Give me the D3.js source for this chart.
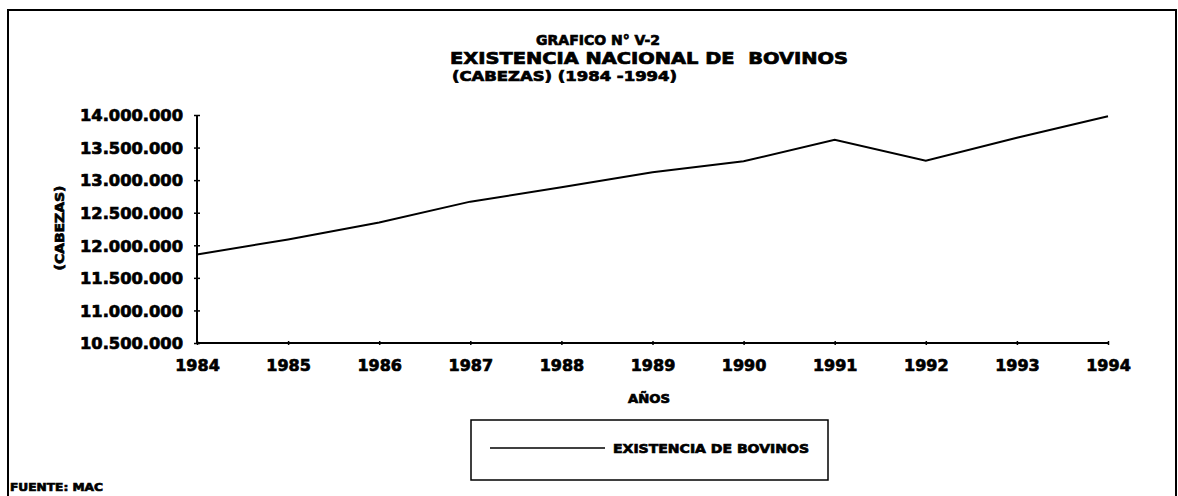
<!DOCTYPE html>
<html>
<head>
<meta charset="utf-8">
<script src="https://cdn.jsdelivr.net/npm/d3@7"></script>
<style>
  body { margin: 0; background: #fff; }
  svg text { font-family: "DejaVu Sans", "Liberation Sans", sans-serif; font-weight: bold; fill: #000; white-space: pre; }
  .heavy { stroke: #000; stroke-width: 0.7px; }
</style>
</head>
<body>
<div id="chart"></div>
<script>
/*
 * Existencia nacional de bovinos 1984-1994
 */

var years = [1984, 1985, 1986, 1987, 1988, 1989, 1990, 1991, 1992, 1993, 1994];
var existencia = [11860000, 12090000, 12350000, 12670000, 12890000, 13120000,
                  13290000, 13620000, 13300000, 13650000, 13980000];
var yTicks = [10500000, 11000000, 11500000, 12000000, 12500000, 13000000, 13500000, 14000000];
var titleLines = ["GRAFICO N° V-2", "EXISTENCIA NACIONAL DE  BOVINOS", "(CABEZAS) (1984 -1994)"];
var seriesName = "EXISTENCIA DE BOVINOS";

var W = 1178, H = 496;
var plot = { left: 197, right: 1108, top: 115, bottom: 343 };

var svg = d3.select("#chart").append("svg").attr("width", W).attr("height", H);

// frame
svg.append("rect").attr("x", 8).attr("y", 10).attr("width", 1168).attr("height", 520)
  .style("fill", "none").style("stroke", "#000").style("stroke-width", 2);

// helper for stretched bold labels
function label(xp, yp, size, len, txt) {
  return svg.append("text").attr("x", xp).attr("y", yp).attr("class", "heavy")
    .style("font-size", size + "px").attr("textLength", len)
    .attr("lengthAdjust", "spacingAndGlyphs").text(txt);
}

// titles
label(536, 45, 14, 124, titleLines[0]);
label(450, 64, 16, 398, titleLines[1]);
label(452, 81, 13.5, 225, titleLines[2]);

var x = d3.scaleLinear().domain([1984, 1994]).range([plot.left, plot.right]);
var y = d3.scaleLinear().domain([10500000, 14000000]).range([plot.bottom, plot.top]);

var locale = d3.formatLocale({ decimal: ",", thousands: ".", grouping: [3], currency: ["", ""] });
var fmt = locale.format(",");

// y axis
var yAxis = svg.append("g").attr("transform", "translate(" + plot.left + ",0)")
  .call(d3.axisLeft(y).tickValues(yTicks).tickFormat(fmt).tickSize(3).tickPadding(11));
yAxis.selectAll("line").attr("x2", 3).attr("x1", -3).style("stroke-width", 1.5);
yAxis.select(".domain").attr("d", "M0," + plot.top + "V" + plot.bottom).style("stroke-width", 2);
yAxis.selectAll("text").attr("class", "heavy").style("font-size", "16px").attr("dy", "0.36em")
  .attr("textLength", 103).attr("lengthAdjust", "spacingAndGlyphs");

// x axis
var xAxis = svg.append("g").attr("transform", "translate(0," + plot.bottom + ")")
  .call(d3.axisBottom(x).tickValues(years).tickFormat(d3.format("d")).tickSize(3).tickPadding(14));
xAxis.selectAll("line").attr("y1", -2).attr("y2", 2).style("stroke-width", 1.5);
xAxis.select(".domain").attr("d", "M" + plot.left + ",0H" + plot.right).style("stroke-width", 2);
xAxis.selectAll("text").attr("class", "heavy").style("font-size", "16px");

// axis titles
svg.append("text").attr("transform", "translate(64,228) rotate(-90)")
  .attr("text-anchor", "middle").attr("class", "heavy")
  .style("font-size", "12px").attr("textLength", 85).attr("lengthAdjust", "spacingAndGlyphs")
  .text("(CABEZAS)");
svg.append("text").attr("x", 649).attr("y", 403).attr("text-anchor", "middle")
  .attr("class", "heavy").style("font-size", "12.5px").attr("textLength", 42)
  .attr("lengthAdjust", "spacingAndGlyphs").text("AÑOS");

// series line
var line = d3.line().x(function(d, i) { return x(years[i]); }).y(function(d) { return y(d); });
svg.append("path").datum(existencia).attr("d", line)
  .style("fill", "none").style("stroke", "#000").style("stroke-width", 2);

// legend
svg.append("rect").attr("x", 471).attr("y", 420).attr("width", 357).attr("height", 60)
  .style("fill", "none").style("stroke", "#000").style("stroke-width", 1.5);
svg.append("line").attr("x1", 490).attr("x2", 605).attr("y1", 448).attr("y2", 448)
  .style("stroke", "#000").style("stroke-width", 1.5);
label(613, 453, 13, 196, seriesName);

// source
label(10, 491, 11, 93, "FUENTE: MAC");
</script>
</body>
</html>
